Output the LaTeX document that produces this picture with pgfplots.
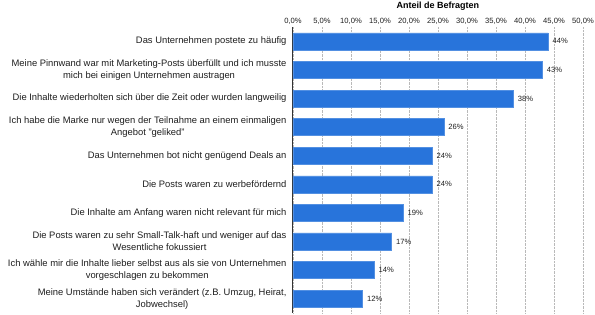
\documentclass[border=0pt]{standalone}
\usepackage{fontspec}
\setmainfont{Liberation Sans}
\usepackage{pgfplots}
\pgfplotsset{compat=1.18}
\definecolor{barblue}{RGB}{40,116,219}
\definecolor{txt}{RGB}{30,30,30}
\begin{document}
\begin{tikzpicture}[x=1pt,y=1pt]
\useasboundingbox (-293,-2) rectangle (302,313);
\begin{axis}[
  at={(0,0)}, anchor=south west,
  scale only axis, width=290pt, height=286pt,
  xbar, bar width=17pt,
  xmin=0, xmax=50, ymin=-0.5, ymax=9.5,
  y dir=reverse,
  axis line style={draw=none},
  major tick length=0pt,
  xtick={0,5,...,50},
  xticklabel pos=upper,
  xticklabel={\pgfmathprintnumber[fixed,fixed zerofill,precision=1,use comma]{\tick}\%},
  /pgf/number format/assume math mode=true,
  xticklabel style={font=\fontsize{7.6}{8}\selectfont, text=txt, yshift=-1pt},
  xmajorgrids, grid style={gray!55, densely dotted},
  extra x ticks={0}, extra x tick labels={},
  extra x tick style={grid style={black!80, solid, line width=1pt}},
  ytick={0,...,9},
  yticklabels={
    Das Unternehmen postete zu häufig,
    {Meine Pinnwand war mit Marketing-Posts überfüllt und ich musste\\mich bei einigen Unternehmen austragen},
    Die Inhalte wiederholten sich über die Zeit oder wurden langweilig,
    {Ich habe die Marke nur wegen der Teilnahme an einem einmaligen\\Angebot "geliked"},
    Das Unternehmen bot nicht genügend Deals an,
    Die Posts waren zu werbefördernd,
    Die Inhalte am Anfang waren nicht relevant für mich,
    {Die Posts waren zu sehr Small-Talk-haft und weniger auf das\\Wesentliche fokussiert},
    {Ich wähle mir die Inhalte lieber selbst aus als sie von Unternehmen\\vorgeschlagen zu bekommen},
    {Meine Umstände haben sich verändert (z.B. Umzug, Heirat,\\Jobwechsel)}
  },
  yticklabel style={font=\fontsize{9.4}{12}\selectfont, align=center, text=txt, xshift=-3pt},
  title={\bfseries Anteil de Befragten},
  title style={at={(0.5,1)}, anchor=south, font=\fontsize{9}{10}\selectfont, yshift=7pt},
  nodes near coords={\pgfmathprintnumber{\pgfplotspointmeta}\%},
  point meta=x,
  nodes near coords style={font=\fontsize{7.6}{8}\selectfont, text=txt, xshift=1pt},
]
\addplot[fill=barblue, draw=barblue!80!white] coordinates {
  (44,0) (43,1) (38,2) (26,3) (24,4) (24,5) (19,6) (17,7) (14,8) (12,9)
};
\end{axis}
\end{tikzpicture}
\end{document}
